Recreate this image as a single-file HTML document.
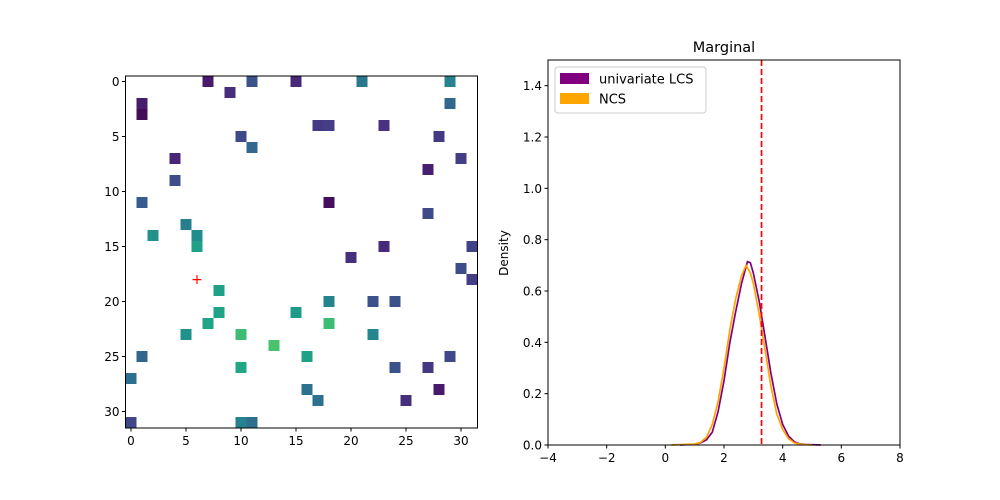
<!DOCTYPE html>
<html><head><meta charset="utf-8"><style>
html,body{margin:0;padding:0;background:#fff;}
svg{display:block;font-family:"DejaVu Sans","Liberation Sans",sans-serif;}
</style></head>
<body>
<svg id="fig" width="1000" height="500" viewBox="0 0 1000 500" xmlns="http://www.w3.org/2000/svg">
<g id="left"></g>
<g id="right"></g>
</svg>
<script>
// Heatmap data
const cellCols = [7,11,15,21,29,9,1,1,29,17,18,23,10,28,11,4,30,27,4,1,18,27,5,2,6,6,23,31,20,30,31,8,18,22,24,8,15,7,18,5,10,22,13,1,16,29,10,24,27,0,16,28,17,25,0,10,11];
const cellRows = [0,0,0,0,0,1,2,3,2,4,4,4,5,5,6,7,7,8,9,11,11,12,13,14,14,15,15,15,16,17,18,19,20,20,20,21,21,22,22,23,23,23,24,25,25,25,26,26,26,27,28,28,29,29,31,31,31];
const cellColors = ["#481a6c","#3b528b","#482878","#2a788e","#26828e","#472d7b","#471e6e","#440d5a","#31688e","#443983","#433e85","#46327e","#3e4a89","#433a83","#31688e","#482576","#433e85","#481f70","#3e4c8a","#365c8d","#450f5e","#3e4a89","#277f8e","#21918c","#228b8d","#1fa188","#472a7a","#404387","#46307e","#3e4c8a","#433e85","#1fa188","#25838e","#3b528b","#3b528b","#20a386","#1e9b8a","#20a387","#3dbc74","#21918c","#3dbc74","#24868e","#4ac16d","#31668e","#1fa188","#3f4889","#22a785","#3b528b","#453781","#2e6e8e","#2c728e","#481a6c","#2c728e","#46307e","#3f4788","#26828e","#2d708e"];
const markerPoint = [6,18];
const hmTicks = [0,5,10,15,20,25,30];

// Marginal density data
const lcsX = [0.5,1.0,1.2,1.4,1.6,1.8,2.0,2.2,2.4,2.6,2.8,2.9,3.0,3.2,3.4,3.6,3.8,4.0,4.2,4.4,4.6,4.8,5.0,5.3];
const lcsY = [0,0.003,0.008,0.02,0.05,0.13,0.25,0.40,0.52,0.63,0.715,0.71,0.67,0.56,0.42,0.28,0.16,0.08,0.035,0.012,0.004,0.002,0.001,0];
const ncsX = [0.2,1.0,1.2,1.4,1.6,1.8,2.0,2.2,2.4,2.6,2.75,2.9,3.0,3.2,3.4,3.6,3.8,4.0,4.2,4.4,4.6,5.0];
const ncsY = [0,0.004,0.01,0.03,0.08,0.17,0.30,0.45,0.57,0.66,0.70,0.67,0.63,0.51,0.37,0.23,0.12,0.06,0.025,0.008,0.003,0];
const refLine = [3.28];
const xTicksR = [-4,-2,0,2,4,6,8];
const yTicksR = [0,0.2,0.4,0.6,0.8,1.0,1.2,1.4];

const NS="http://www.w3.org/2000/svg";
function mk(parent,tag,attrs,text){const e=document.createElementNS(NS,tag);for(const k in attrs)e.setAttribute(k,attrs[k]);if(text!==undefined)e.textContent=text;parent.appendChild(e);return e;}

// Left heatmap
const L=document.getElementById('left');
const hx0=125.5,hy0=76,cs=11;
const hx=v=>hx0+(v+0.5)*cs, hy=v=>hy0+(v+0.5)*cs;
for(let i=0;i<cellCols.length;i++){
  const r=mk(L,'rect',{x:hx(cellCols[i])-cs/2,y:hy(cellRows[i])-cs/2,width:cs,height:cs,fill:cellColors[i]});
  
  
}
const mp=mk(L,'text',{x:hx(markerPoint[0]),y:hy(markerPoint[1])+4.5,'text-anchor':'middle','font-size':'14',fill:'red'},'+');


const lf=mk(L,'rect',{x:hx0,y:hy0,width:32*cs,height:32*cs,fill:'none',stroke:'#000','stroke-width':1});


for(const t of hmTicks){
  mk(L,'line',{x1:hx(t),x2:hx(t),y1:hy0+32*cs,y2:hy0+32*cs+3.5,stroke:'#000'});
  const xl=mk(L,'text',{x:hx(t),y:hy0+32*cs+17,'text-anchor':'middle','font-size':'12'},String(t));
  
  
  mk(L,'line',{x1:hx0-3.5,x2:hx0,y1:hy(t),y2:hy(t),stroke:'#000'});
  const yl=mk(L,'text',{x:hx0-6,y:hy(t)+4.5,'text-anchor':'end','font-size':'12'},String(t));
  
  
}

// Right density
const R=document.getElementById('right');
const ax0=548,ax1=900,ay0=60,ay1=445;
const sx=v=>ax0+(v+4)/12*(ax1-ax0), sy=v=>ay1-v/1.5*(ay1-ay0);
function path(xs,ys){return xs.map((x,i)=>(i?'L':'M')+sx(x).toFixed(1)+' '+sy(ys[i]).toFixed(1)).join(' ');}
const pl=mk(R,'path',{d:path(lcsX,lcsY),fill:'none',stroke:'purple','stroke-width':1.7,'stroke-linejoin':'round'});


const po=mk(R,'path',{d:path(ncsX,ncsY),fill:'none',stroke:'orange','stroke-width':1.7,'stroke-linejoin':'round'});


const rl=mk(R,'line',{x1:sx(refLine[0]),x2:sx(refLine[0]),y1:ay0,y2:ay1,stroke:'red','stroke-width':1.7,'stroke-dasharray':'6,3'});


const rf=mk(R,'rect',{x:ax0,y:ay0,width:ax1-ax0,height:ay1-ay0,fill:'none',stroke:'#000','stroke-width':1});


for(const t of xTicksR){
  mk(R,'line',{x1:sx(t),x2:sx(t),y1:ay1,y2:ay1+3.5,stroke:'#000'});
  const xl=mk(R,'text',{x:sx(t),y:ay1+17,'text-anchor':'middle','font-size':'12'},t<0?'\u2212'+(-t):String(t));
  
  
}
for(const t of yTicksR){
  mk(R,'line',{x1:ax0-3.5,x2:ax0,y1:sy(t),y2:sy(t),stroke:'#000'});
  const yl=mk(R,'text',{x:ax0-6,y:sy(t)+4.5,'text-anchor':'end','font-size':'12'},t.toFixed(1));
  
  
}
const yt=mk(R,'text',{x:0,y:0,transform:'translate(508,253) rotate(-90)','text-anchor':'middle','font-size':'12'},'Density');


const tt=mk(R,'text',{x:724,y:52,'text-anchor':'middle','font-size':'14.5'},'Marginal');



// Legend
const lg=mk(R,'g',{});


mk(lg,'rect',{x:555,y:67,width:151,height:46,rx:3,fill:'#fff','fill-opacity':0.8,stroke:'#ccc'});
const e1=mk(lg,'rect',{x:560,y:73,width:29,height:11,fill:'purple'});


const t1=mk(lg,'text',{x:599,y:83.5,'font-size':'13'},'univariate LCS');


const e2=mk(lg,'rect',{x:560,y:93,width:29,height:11,fill:'orange'});


const t2=mk(lg,'text',{x:599,y:103.5,'font-size':'13'},'NCS');


</script>
</body></html>
